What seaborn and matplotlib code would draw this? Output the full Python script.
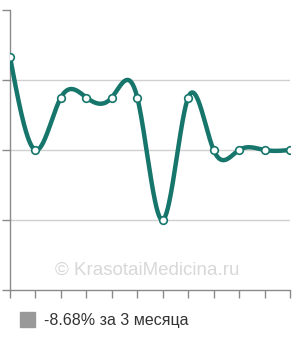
import numpy as np
import pandas as pd
import matplotlib
matplotlib.use("Agg")
import matplotlib.pyplot as plt
import seaborn as sns

# data
months = list(range(12))
values = [3.33, 2.0, 2.75, 2.75, 2.75, 2.75, 1.0, 2.75, 2.0, 2.0, 2.0, 2.0]
legend_label = "-8.68% за 3 месяца"
watermark = "© KrasotaiMedicina.ru"
y_ticks = [0, 1, 2, 3, 4]

LINE = "#17766b"


def natural_spline(x, y, n=40):
    x = np.asarray(x, float)
    y = np.asarray(y, float)
    k = len(x)
    h = np.diff(x)
    A = np.zeros((k, k))
    b = np.zeros(k)
    A[0, 0] = 1
    A[-1, -1] = 1
    for i in range(1, k - 1):
        A[i, i - 1] = h[i - 1]
        A[i, i] = 2 * (h[i - 1] + h[i])
        A[i, i + 1] = h[i]
        b[i] = 3 * ((y[i + 1] - y[i]) / h[i] - (y[i] - y[i - 1]) / h[i - 1])
    c = np.linalg.solve(A, b)
    xs, ys = [], []
    for i in range(k - 1):
        bb = (y[i + 1] - y[i]) / h[i] - h[i] * (2 * c[i] + c[i + 1]) / 3
        d = (c[i + 1] - c[i]) / (3 * h[i])
        t = np.linspace(0, h[i], n, endpoint=(i == k - 2))
        xs.append(x[i] + t)
        ys.append(y[i] + bb * t + c[i] * t ** 2 + d * t ** 3)
    return np.concatenate(xs), np.concatenate(ys)


sns.set_theme(style="white")
fig = plt.figure(figsize=(3.0, 3.4), dpi=100)
ax = fig.add_axes([10 / 300, 50 / 340, 280 / 300, 280 / 340])

for yt in y_ticks[1:4]:
    ax.axhline(yt, color="#d0d0d0", lw=1, zorder=0)

sx, sy = natural_spline(months, values)
curve = pd.DataFrame({"x": sx, "y": sy})
sns.lineplot(data=curve, x="x", y="y", ax=ax, color=LINE, lw=3.2, sort=False,
             zorder=3)
pts = pd.DataFrame({"x": months, "y": values})
sns.scatterplot(data=pts, x="x", y="y", ax=ax, s=30, color="white",
                edgecolor=LINE, linewidth=1.2, zorder=4)

ax.set_xlim(0, 11)
ax.set_ylim(0, 4)
ax.set_xticks(months)
ax.set_yticks(y_ticks)
ax.set_xticklabels([])
ax.set_yticklabels([])
ax.set_xlabel("")
ax.set_ylabel("")
for s in ["top", "right"]:
    ax.spines[s].set_visible(False)
for s in ["left", "bottom"]:
    ax.spines[s].set_color("#8a8a8a")
    ax.spines[s].set_linewidth(1)
ax.tick_params(axis="both", length=6, width=1, color="#8a8a8a",
               direction="out", bottom=True, left=True)
for sp in ax.spines.values():
    sp.set_clip_on(False)

ax.text(0.49, 0.071, watermark, transform=ax.transAxes, ha="center",
        va="center", fontsize=13.5, color="#d8d8d8", family="Liberation Sans",
        zorder=1)

fig.patches.append(plt.Rectangle((20 / 300, 1 - 327 / 340), 15 / 300, 15 / 340,
                                 transform=fig.transFigure, color="#999999",
                                 figure=fig))
fig.text(44 / 300, 1 - 320 / 340, legend_label, fontsize=11.5, color="#333333",
         va="center", ha="left", family="Liberation Sans")

fig.savefig("out.png", dpi=100)
